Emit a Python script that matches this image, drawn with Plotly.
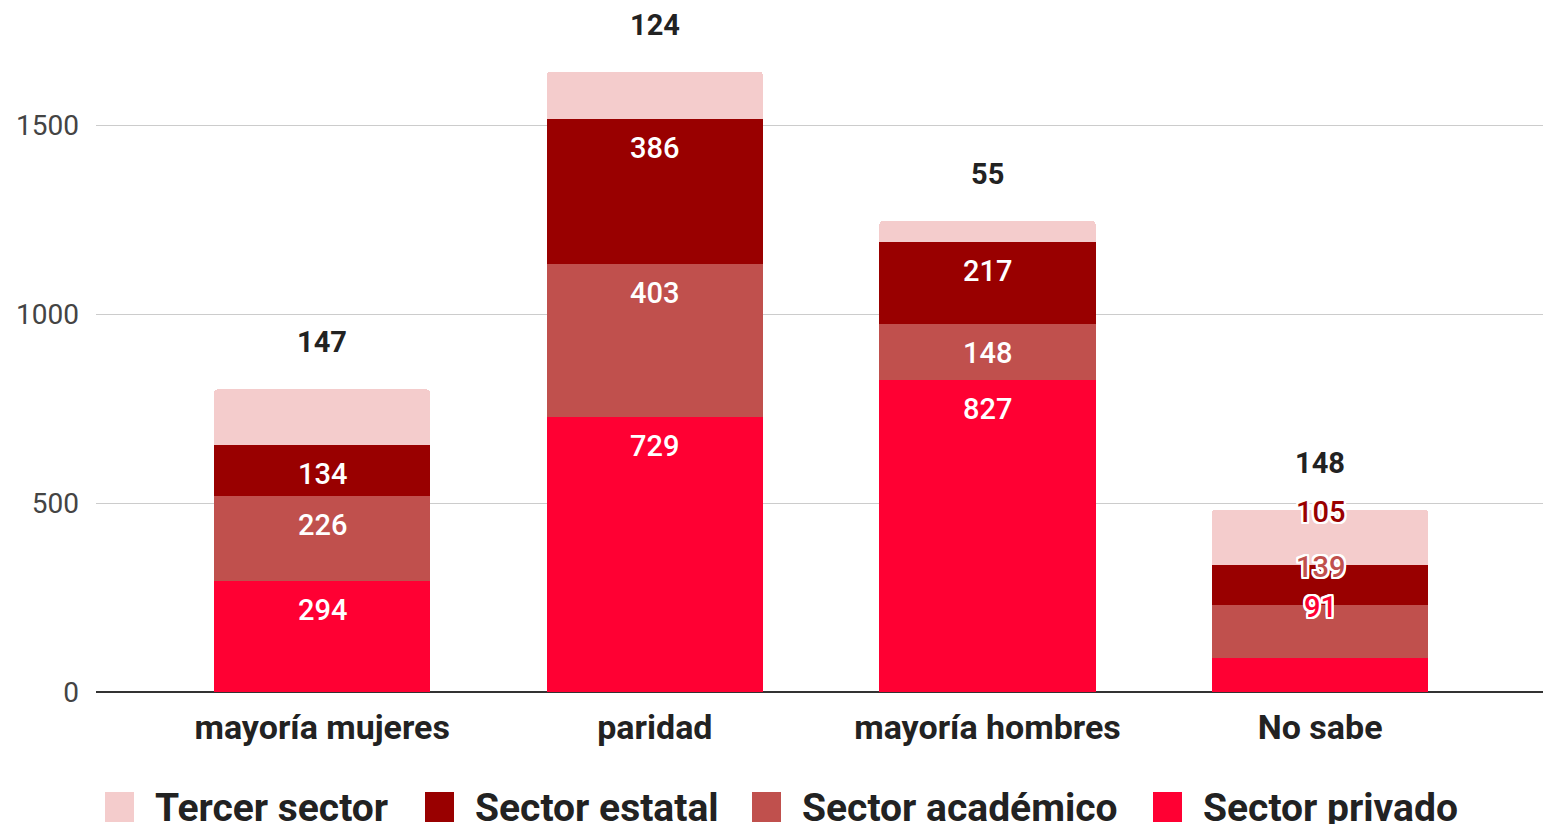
import plotly.graph_objects as go

categorias = ["mayoría mujeres", "paridad", "mayoría hombres", "No sabe"]

# series from bottom to top of the stack
sector_privado = [294, 729, 827, 91]
sector_academico = [226, 403, 148, 139]
sector_estatal = [134, 386, 217, 105]
tercer_sector = [147, 124, 55, 148]

series = [
    ("Sector privado", sector_privado, "#FF0033"),
    ("Sector académico", sector_academico, "#C0504D"),
    ("Sector estatal", sector_estatal, "#990000"),
    ("Tercer sector", tercer_sector, "#F4CCCC"),
]

FONT = "Roboto, Arial, sans-serif"
outline = ", ".join(f"white {dx}px {dy}px 0" for dx in (-2, -1, 0, 1, 2) for dy in (-2, -1, 0, 1, 2))

fig = go.Figure()
for name, vals, color in series:
    fig.add_trace(go.Bar(x=categorias, y=vals, name=name, marker_color=color,
                         marker_line_width=0, showlegend=False))

annotations = []
for ci, cat in enumerate(categorias):
    vals = [s[1][ci] for s in series]
    tops = []
    acc = 0
    for v in vals:
        acc += v
        tops.append(acc)
    # short bottom segment: Sheets pushes labels up one segment, coloured text
    crowded = vals[0] < 100
    for si, (name, _, color) in enumerate(series[:-1]):
        if crowded:
            annotations.append(dict(x=cat, y=tops[si + 1], yshift=-2, text=str(vals[si]),
                                    showarrow=False, yanchor="middle",
                                    font=dict(family=FONT, size=29, color=color, weight=500,
                                              shadow=outline)))
        else:
            annotations.append(dict(x=cat, y=tops[si], yshift=-29, text=str(vals[si]),
                                    showarrow=False, yanchor="middle",
                                    font=dict(family=FONT, size=29, color="white", weight=500)))
    annotations.append(dict(x=cat, y=tops[-1], yshift=47, text=str(vals[-1]), showarrow=False,
                            yanchor="middle",
                            font=dict(family=FONT, size=29, color="#222222", weight="bold")))

# legend drawn by hand so that the swatches match the size of the original
plot_left, plot_w, plot_bottom, plot_h = 96, 1447, 692, 680
legend_x = [105, 425, 752, 1153]
shapes = []
for (name, _, color), lx in zip(reversed(series), legend_x):
    shapes.append(dict(type="rect", xref="paper", yref="paper",
                       x0=(lx - plot_left) / plot_w, x1=(lx + 29 - plot_left) / plot_w,
                       y0=-(822 - plot_bottom) / plot_h, y1=-(792 - plot_bottom) / plot_h,
                       fillcolor=color, line_width=0))
    annotations.append(dict(xref="paper", yref="paper", x=(lx + 48 - plot_left) / plot_w,
                            y=-(808 - plot_bottom) / plot_h, xanchor="left", yanchor="middle",
                            text=name, showarrow=False,
                            font=dict(family=FONT, size=39, color="#222222", weight="bold")))

fig.update_layout(
    barmode="stack",
    bargap=0.35,
    barcornerradius=4,
    width=1543,
    height=824,
    margin=dict(l=plot_left, r=0, t=12, b=132),
    plot_bgcolor="white",
    paper_bgcolor="white",
    annotations=annotations,
    shapes=shapes,
    xaxis=dict(range=[-0.68, 3.67], showgrid=False, ticks="", ticklabelstandoff=12,
               tickfont=dict(family=FONT, size=34, color="#222222", weight="bold"),
               showline=False, zeroline=False),
    yaxis=dict(range=[0, 1800], tickvals=[0, 500, 1000, 1500], showgrid=True,
               gridcolor="#CCCCCC", gridwidth=1, zeroline=True, zerolinecolor="#333333",
               zerolinewidth=2, ticklabelstandoff=16,
               tickfont=dict(family=FONT, size=28, color="#444444")),
)

fig.write_html("out.html", config={"displayModeBar": False},
               post_script="document.body.style.margin = '0';")
